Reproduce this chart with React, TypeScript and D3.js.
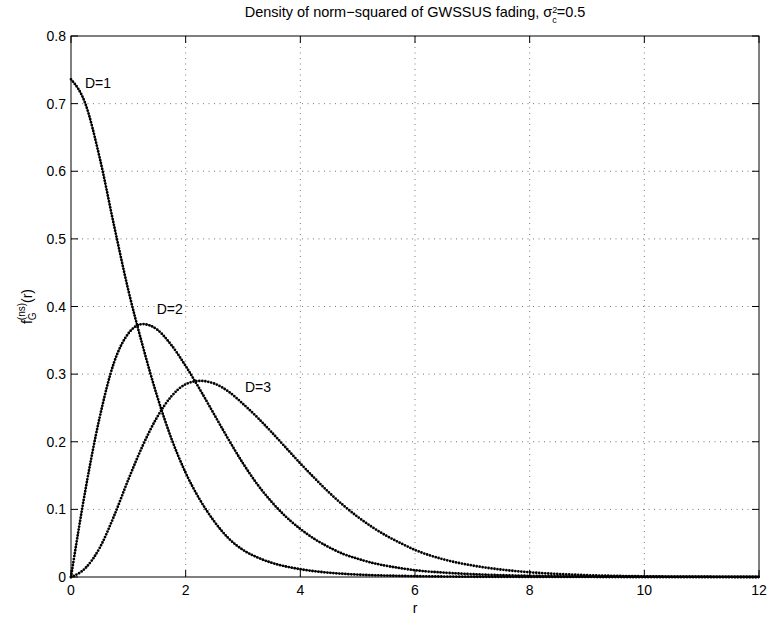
import React from "react";
import * as d3 from "d3";

const rGrid = [0, 0.25, 0.5, 0.75, 1, 1.25, 1.5, 1.75, 2, 2.25, 2.5, 2.75, 3, 3.25, 3.5, 3.75, 4, 4.25, 4.5, 4.75, 5, 5.25, 5.5, 5.75, 6, 6.5, 7, 7.5, 8, 9, 10, 11, 12];

const densityD1 = [0.736, 0.700, 0.620, 0.520, 0.424, 0.342, 0.268, 0.205, 0.154, 0.114, 0.082, 0.057, 0.040, 0.029, 0.021, 0.0155, 0.0115, 0.0085, 0.0063, 0.0047, 0.0035, 0.0027, 0.0021, 0.0016, 0.0012, 0.0007, 0.0004, 0.00025, 0.00015, 0.00005, 0, 0, 0];
const densityD2 = [0, 0.128, 0.236, 0.317, 0.360, 0.374, 0.366, 0.343, 0.312, 0.277, 0.240, 0.203, 0.168, 0.137, 0.111, 0.089, 0.071, 0.056, 0.044, 0.034, 0.027, 0.021, 0.0165, 0.013, 0.010, 0.0065, 0.0042, 0.0027, 0.0017, 0.0007, 0.0003, 0.0001, 0];
const densityD3 = [0, 0.013, 0.043, 0.090, 0.144, 0.194, 0.236, 0.267, 0.285, 0.290, 0.286, 0.274, 0.256, 0.236, 0.214, 0.191, 0.168, 0.146, 0.125, 0.106, 0.089, 0.074, 0.061, 0.050, 0.040, 0.026, 0.017, 0.011, 0.007, 0.0027, 0.001, 0.0004, 0.00015];

const seriesNames = ["D=1", "D=2", "D=3"];
const labelR = [0.244, 1.495, 3.035];
const labelV = [0.723, 0.3896, 0.2736];

const xTicks = [0, 2, 4, 6, 8, 10, 12];
const yTicks = [0, 0.1, 0.2, 0.3, 0.4, 0.5, 0.6, 0.7, 0.8];

const W = 769;
const H = 619;
const FONT = "'Liberation Sans', Arial, Helvetica, sans-serif";

export default function App() {
  const x = d3.scaleLinear().domain([0, 12]).range([71, 759]);
  const y = d3.scaleLinear().domain([0, 0.8]).range([577, 36]);
  const [x0, x1] = x.range();
  const [y0, y1] = y.range();

  const line = d3
    .line<[number, number]>()
    .x((d) => x(d[0]))
    .y((d) => y(d[1]))
    .curve(d3.curveMonotoneX);

  const series = [densityD1, densityD2, densityD3].map((vals) =>
    line(rGrid.map((r, i) => [r, vals[i]] as [number, number]))
  );
  const baseDash = [null, "5 2 1.5 2", "1 2"];
  const baseWidth = [0.9, 0.9, 0];

  const tickLen = 7;

  return (
    <svg
      width={W}
      height={H}
      style={{ position: "absolute", left: 0, top: 0, background: "#fff" }}
      fontFamily={FONT}
    >
      <rect x={0} y={0} width={W} height={H} fill="#fff" />
      {/* grid */}
      {xTicks.slice(1, -1).map((t) => (
        <line key={"gx" + t} x1={x(t)} x2={x(t)} y1={y1} y2={y0} stroke="#555" strokeWidth={0.8} strokeDasharray="1 4.5" />
      ))}
      {yTicks.slice(1, -1).map((t) => (
        <line key={"gy" + t} x1={x0} x2={x1} y1={y(t)} y2={y(t)} stroke="#555" strokeWidth={0.8} strokeDasharray="1 4.5" />
      ))}

      {/* curves */}
      {series.map((d, i) => (
        <g key={"s" + i}>
          {baseWidth[i] > 0 && (
            <path d={d || ""} fill="none" stroke="#000" strokeWidth={baseWidth[i]} strokeDasharray={baseDash[i] || undefined} />
          )}
          <path d={d || ""} fill="none" stroke="#000" strokeWidth={2.8} strokeLinecap="round" strokeDasharray="0 3" />
        </g>
      ))}

      {/* labels */}
      {seriesNames.map((n, i) => (
        <text key={"l" + i} x={x(labelR[i])} y={y(labelV[i])} fontSize={14} fill="#000">
          {n}
        </text>
      ))}

      {/* box */}
      <rect x={x0} y={y1} width={x1 - x0} height={y0 - y1} fill="none" stroke="#000" strokeWidth={1} />

      {/* ticks */}
      {xTicks.map((t) => (
        <g key={"xt" + t}>
          <line x1={x(t)} x2={x(t)} y1={y0} y2={y0 - tickLen} stroke="#000" />
          <line x1={x(t)} x2={x(t)} y1={y1} y2={y1 + tickLen} stroke="#000" />
          <text x={x(t)} y={595} textAnchor="middle" fontSize={14} fill="#000">
            {t}
          </text>
        </g>
      ))}
      {yTicks.map((t) => (
        <g key={"yt" + t}>
          <line x1={x0} x2={x0 + tickLen} y1={y(t)} y2={y(t)} stroke="#000" />
          <line x1={x1} x2={x1 - tickLen} y1={y(t)} y2={y(t)} stroke="#000" />
          <text x={66} y={y(t)} dy="0.36em" textAnchor="end" fontSize={14} fill="#000">
            {d3.format("")(Math.round(t * 10) / 10)}
          </text>
        </g>
      ))}

      {/* title */}
      <text x={(x0 + x1) / 2} y={17} textAnchor="middle" fontSize={14.5} fill="#000">
        Density of norm−squared of GWSSUS fading, σ
        <tspan fontSize={9} dy={-4}>2</tspan>
        <tspan fontSize={9} dx={-5} dy={10}>c</tspan>
        <tspan dy={-6}>=0.5</tspan>
      </text>

      {/* x label */}
      <text x={(x0 + x1) / 2} y={613} textAnchor="middle" fontSize={14} fill="#000">
        r
      </text>

      {/* y label */}
      <text transform={`translate(32,${(y0 + y1) / 2}) rotate(-90)`} textAnchor="middle" fontSize={14} fill="#000">
        f
        <tspan fontSize={10} dy={-7}>(ns)</tspan>
        <tspan fontSize={10} dx={-17.2} dy={11}>G</tspan>
        <tspan dx={9.4} dy={-4}>(r)</tspan>
      </text>
    </svg>
  );
}
